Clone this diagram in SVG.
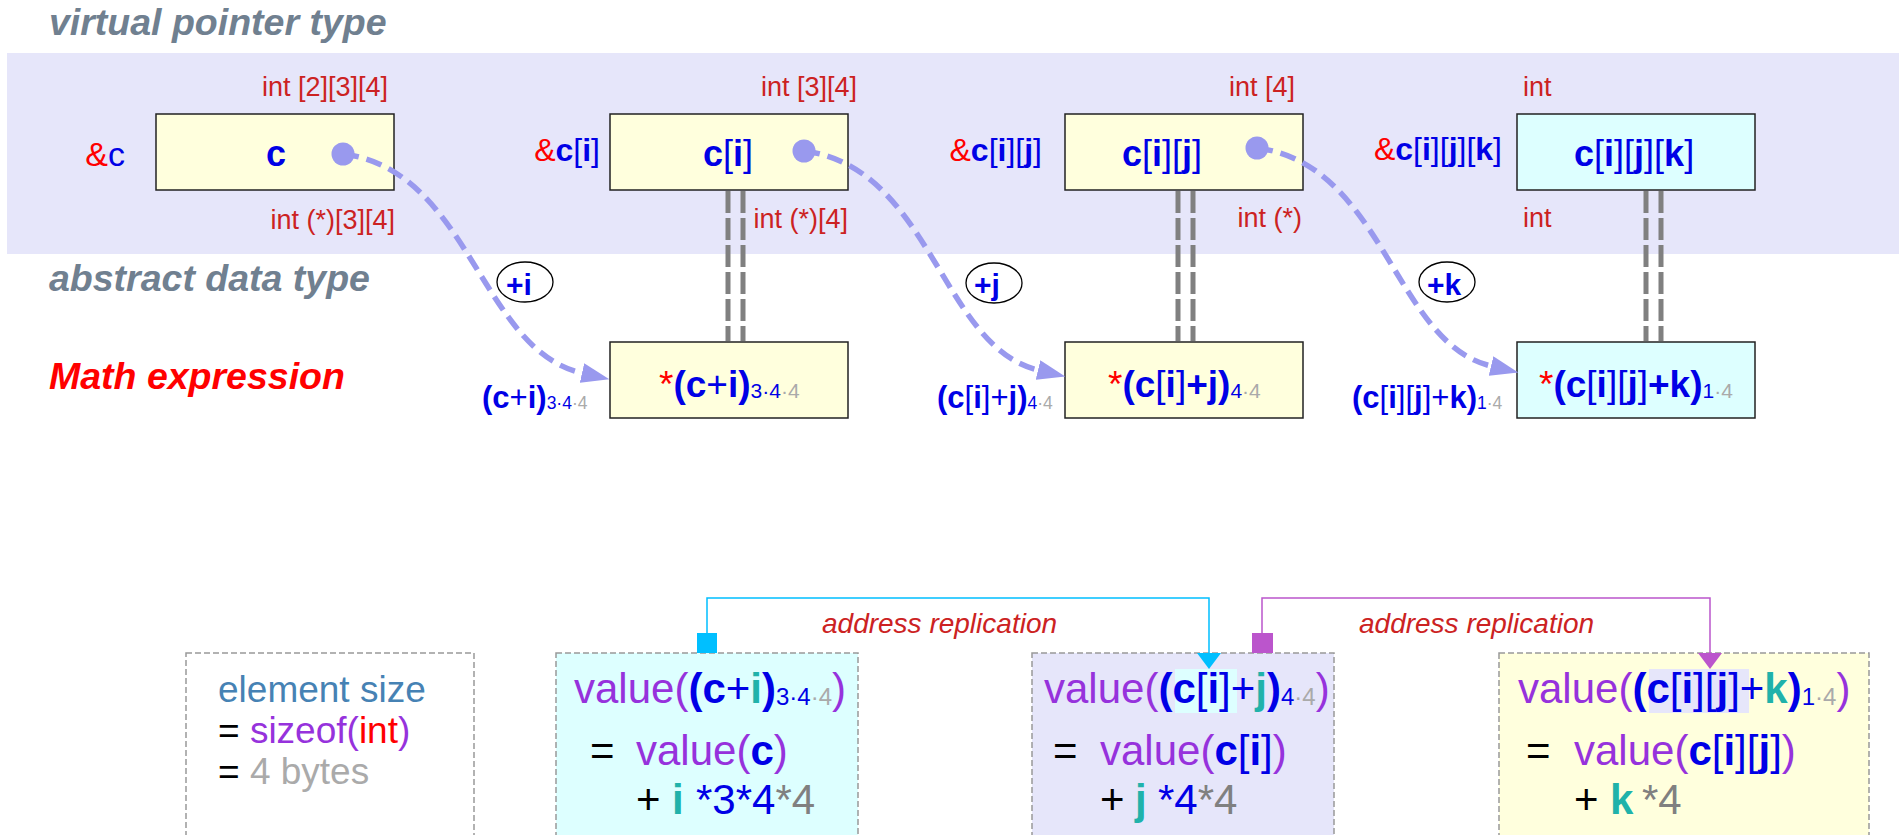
<svg xmlns="http://www.w3.org/2000/svg" width="1902" height="835" viewBox="0 0 1902 835">
<style>
text{font-family:"Liberation Sans",Arial,sans-serif}
.hdr{font-size:37.5px;font-weight:bold;font-style:italic;fill:#708090}
.ty{font-size:27px;fill:#cc2222}
.amp{font-size:32px;fill:#0000e6;font-weight:bold}
.bx{font-size:36px;fill:#0000e6;font-weight:bold}
.ex{font-size:37px;fill:#0000e6;font-weight:bold}
.lx{font-size:31px;fill:#0000e6;font-weight:bold}
.r{font-weight:normal}
.red{fill:#ff0000}
.gr{fill:#aaaaaa}
.dg{fill:#808080}
.pu{fill:#9632dc}
.tl{fill:#20b2aa}
.bl{fill:#0000e6}
.bk{fill:#000000}
.b{font-weight:bold}
.node{fill:#ffffdd;stroke:#222;stroke-width:1.5}
.cy{fill:#ddffff}
.curve{fill:none;stroke:#9999ee;stroke-width:5.5;stroke-dasharray:16 8}
.dbl{stroke:#808080;stroke-width:5;stroke-dasharray:22 5}
.oval{fill:none;stroke:#000;stroke-width:1.3}
.pl{font-size:30px;font-weight:bold;fill:#0000e6}
.vbox{stroke:#999;stroke-width:1.5;stroke-dasharray:6 3}
.v{font-size:42px;fill:#9632dc}
.es{font-size:37px}
.ar{font-size:28px;font-style:italic;fill:#cc2222}
</style>
<defs>
<marker id="ah" markerUnits="userSpaceOnUse" viewBox="0 0 28 20" markerWidth="28" markerHeight="20" refX="0" refY="10" orient="auto">
<path d="M0,0 L28,10 L0,20 z" fill="#9999ee"/>
</marker>
</defs>

<rect x="7" y="53" width="1892" height="201" fill="#e6e6fa"/>

<text class="hdr" x="49" y="35">virtual pointer type</text>
<text class="hdr" x="49" y="291">abstract data type</text>
<text class="hdr" x="49" y="389" style="fill:#ff0000">Math expression</text>

<g id="node-c">
<rect class="node" x="156" y="114" width="238" height="76"/>
<text class="bx" x="266" y="166">c</text>
<text class="amp r" x="125" y="166" text-anchor="end" style="font-size:34px"><tspan class="red">&amp;</tspan>c</text>
<text class="ty" x="388" y="96" text-anchor="end">int [2][3][4]</text>
<text class="ty" x="395" y="229" text-anchor="end">int (*)[3][4]</text>
</g>

<g id="node-ci">
<rect class="node" x="610" y="114" width="238" height="76"/>
<text class="bx" x="703" y="166">c<tspan class="r">[</tspan>i<tspan class="r">]</tspan></text>
<text class="amp" x="600" y="161" text-anchor="end"><tspan class="red r">&amp;</tspan>c<tspan class="r">[</tspan>i<tspan class="r">]</tspan></text>
<text class="ty" x="857" y="96" text-anchor="end">int [3][4]</text>
<text class="ty" x="848" y="228" text-anchor="end">int (*)[4]</text>
</g>

<g id="node-cij">
<rect class="node" x="1065" y="114" width="238" height="76"/>
<text class="bx" x="1122" y="166">c<tspan class="r">[</tspan>i<tspan class="r">][</tspan>j<tspan class="r">]</tspan></text>
<text class="amp" x="1042" y="161" text-anchor="end"><tspan class="red r">&amp;</tspan>c<tspan class="r">[</tspan>i<tspan class="r">][</tspan>j<tspan class="r">]</tspan></text>
<text class="ty" x="1295" y="96" text-anchor="end">int [4]</text>
<text class="ty" x="1302" y="227" text-anchor="end">int (*)</text>
</g>

<g id="node-cijk">
<rect class="node cy" x="1517" y="114" width="238" height="76"/>
<text class="bx" x="1574" y="166">c<tspan class="r">[</tspan>i<tspan class="r">][</tspan>j<tspan class="r">][</tspan>k<tspan class="r">]</tspan></text>
<text class="amp" x="1502" y="160" text-anchor="end"><tspan class="red r">&amp;</tspan>c<tspan class="r">[</tspan>i<tspan class="r">][</tspan>j<tspan class="r">][</tspan>k<tspan class="r">]</tspan></text>
<text class="ty" x="1523" y="96">int</text>
<text class="ty" x="1523" y="227">int</text>
</g>

<g id="node-deref-ci">
<rect class="node" x="610" y="342" width="238" height="76"/>
<text class="ex" x="659" y="397"><tspan class="red r">*</tspan>(c<tspan class="r">+</tspan>i)<tspan class="r" style="font-size:21px" dy="1">3·4</tspan><tspan class="r gr" style="font-size:21px">·4</tspan></text>
<text class="lx" x="482" y="408">(c<tspan class="r">+</tspan>i)<tspan class="r" style="font-size:17.5px" dy="1">3·4</tspan><tspan class="r gr" style="font-size:17.5px">·4</tspan></text>
</g>

<g id="node-deref-cij">
<rect class="node" x="1065" y="342" width="238" height="76"/>
<text class="ex" x="1108" y="397"><tspan class="red r">*</tspan>(c<tspan class="r">[</tspan>i<tspan class="r">]</tspan>+j)<tspan class="r" style="font-size:21px" dy="1">4</tspan><tspan class="r gr" style="font-size:21px">·4</tspan></text>
<text class="lx" x="937" y="408">(c<tspan class="r">[</tspan>i<tspan class="r">]+</tspan>j)<tspan class="r" style="font-size:17.5px" dy="1">4</tspan><tspan class="r gr" style="font-size:17.5px">·4</tspan></text>
</g>

<g id="node-deref-cijk">
<rect class="node cy" x="1517" y="342" width="238" height="76"/>
<text class="ex" x="1539" y="397"><tspan class="red r">*</tspan>(c<tspan class="r">[</tspan>i<tspan class="r">][</tspan>j<tspan class="r">]</tspan>+k)<tspan class="r" style="font-size:21px" dy="1">1</tspan><tspan class="r gr" style="font-size:21px">·4</tspan></text>
<text class="lx" x="1352" y="408">(c<tspan class="r">[</tspan>i<tspan class="r">][</tspan>j<tspan class="r">]+</tspan>k)<tspan class="r" style="font-size:17.5px" dy="1">1</tspan><tspan class="r gr" style="font-size:17.5px">·4</tspan></text>
</g>

<g id="node-elemsize">
<rect class="vbox" x="186" y="653" width="288" height="200" fill="#ffffff"/>
<text class="es" x="218" y="702" fill="#4682b4">element size</text>
<text class="es" x="218" y="743"><tspan class="bk">= </tspan><tspan class="pu">sizeof(</tspan><tspan class="red">int</tspan><tspan class="pu">)</tspan></text>
<text class="es" x="218" y="784"><tspan class="bk">= </tspan><tspan class="gr">4 bytes</tspan></text>
</g>

<g id="node-value1">
<rect class="vbox" x="556" y="653" width="302" height="200" fill="#ddffff"/>
<text class="v" x="574" y="703">value(<tspan class="bl b">(c</tspan><tspan class="bl">+</tspan><tspan class="tl b">i</tspan><tspan class="bl b">)</tspan><tspan class="bl" style="font-size:24px" dy="2">3·4</tspan><tspan class="gr" style="font-size:24px">·4</tspan><tspan dy="-2">)</tspan></text>
<text class="v" y="765"><tspan class="bk" x="590">=</tspan><tspan x="636">value(</tspan><tspan class="bl b">c</tspan>)</text>
<text class="v" y="814"><tspan class="bk" x="636">+</tspan><tspan class="tl b" x="672">i</tspan><tspan class="bl" x="696">*3*4</tspan><tspan class="dg">*4</tspan></text>
</g>

<g id="node-value2">
<rect class="vbox" x="1032" y="653" width="302" height="200" fill="#e6e6fa"/>
<rect x="1175" y="669" width="62" height="44" fill="#ddffff"/>
<text class="v" x="1044" y="703">value(<tspan class="bl b">(c</tspan><tspan class="bl">[</tspan><tspan class="bl b">i</tspan><tspan class="bl">]+</tspan><tspan class="tl b">j</tspan><tspan class="bl b">)</tspan><tspan class="bl" style="font-size:24px" dy="2">4</tspan><tspan class="gr" style="font-size:24px">·4</tspan><tspan dy="-2">)</tspan></text>
<text class="v" y="765"><tspan class="bk" x="1053">=</tspan><tspan x="1100">value(</tspan><tspan class="bl b">c</tspan><tspan class="bl">[</tspan><tspan class="bl b">i</tspan><tspan class="bl">]</tspan>)</text>
<text class="v" y="814"><tspan class="bk" x="1100">+</tspan><tspan class="tl b" x="1135">j</tspan><tspan class="bl" x="1158">*4</tspan><tspan class="dg">*4</tspan></text>
</g>

<g id="node-value3">
<rect class="vbox" x="1499" y="653" width="370" height="200" fill="#ffffdd"/>
<rect x="1649" y="669" width="100" height="44" fill="#e6e6fa"/>
<text class="v" x="1518" y="703">value(<tspan class="bl b">(c</tspan><tspan class="bl">[</tspan><tspan class="bl b">i</tspan><tspan class="bl">][</tspan><tspan class="bl b">j</tspan><tspan class="bl">]+</tspan><tspan class="tl b">k</tspan><tspan class="bl b">)</tspan><tspan class="bl" style="font-size:24px" dy="2">1</tspan><tspan class="gr" style="font-size:24px">·4</tspan><tspan dy="-2">)</tspan></text>
<text class="v" y="765"><tspan class="bk" x="1526">=</tspan><tspan x="1574">value(</tspan><tspan class="bl b">c</tspan><tspan class="bl">[</tspan><tspan class="bl b">i</tspan><tspan class="bl">][</tspan><tspan class="bl b">j</tspan><tspan class="bl">]</tspan>)</text>
<text class="v" y="814"><tspan class="bk" x="1574">+</tspan><tspan class="tl b" x="1610">k</tspan><tspan class="dg" x="1642">*4</tspan></text>
</g>

<g id="connectors">
<path class="curve" d="M343,154 C470,170 480,350 582,373" marker-end="url(#ah)"/>
<path class="curve" d="M804,151 C931,167 941,347 1038,370" marker-end="url(#ah)"/>
<path class="curve" d="M1257,148 C1384,164 1394,343 1491,366" marker-end="url(#ah)"/>
<circle cx="343" cy="154" r="11.5" fill="#9999ee"/>
<circle cx="804" cy="151" r="11.5" fill="#9999ee"/>
<circle cx="1257" cy="148" r="11.5" fill="#9999ee"/>
<line class="dbl" x1="728" y1="191" x2="728" y2="341"/>
<line class="dbl" x1="743" y1="191" x2="743" y2="341"/>
<line class="dbl" x1="1178" y1="191" x2="1178" y2="341"/>
<line class="dbl" x1="1193" y1="191" x2="1193" y2="341"/>
<line class="dbl" x1="1646" y1="191" x2="1646" y2="341"/>
<line class="dbl" x1="1661" y1="191" x2="1661" y2="341"/>
<ellipse class="oval" cx="525" cy="282" rx="28" ry="20"/>
<text class="pl" x="506" y="295">+i</text>
<ellipse class="oval" cx="994" cy="283" rx="28" ry="20"/>
<text class="pl" x="974" y="295">+j</text>
<ellipse class="oval" cx="1447" cy="282" rx="28" ry="20"/>
<text class="pl" x="1427" y="295">+k</text>
<path d="M707,633 V598 H1209 V653" fill="none" stroke="#00bfff" stroke-width="1.5"/>
<rect x="697" y="633" width="20" height="20" fill="#00bfff"/>
<polygon points="1197,653 1221,653 1209,669" fill="#00bfff"/>
<path d="M1262,633 V598 H1710 V653" fill="none" stroke="#bb55cc" stroke-width="1.5"/>
<rect x="1252" y="633" width="21" height="20" fill="#bb55cc"/>
<polygon points="1698,653 1722,653 1710,669" fill="#bb55cc"/>
<text class="ar" x="822" y="633">address replication</text>
<text class="ar" x="1359" y="633">address replication</text>
</g>
</svg>
